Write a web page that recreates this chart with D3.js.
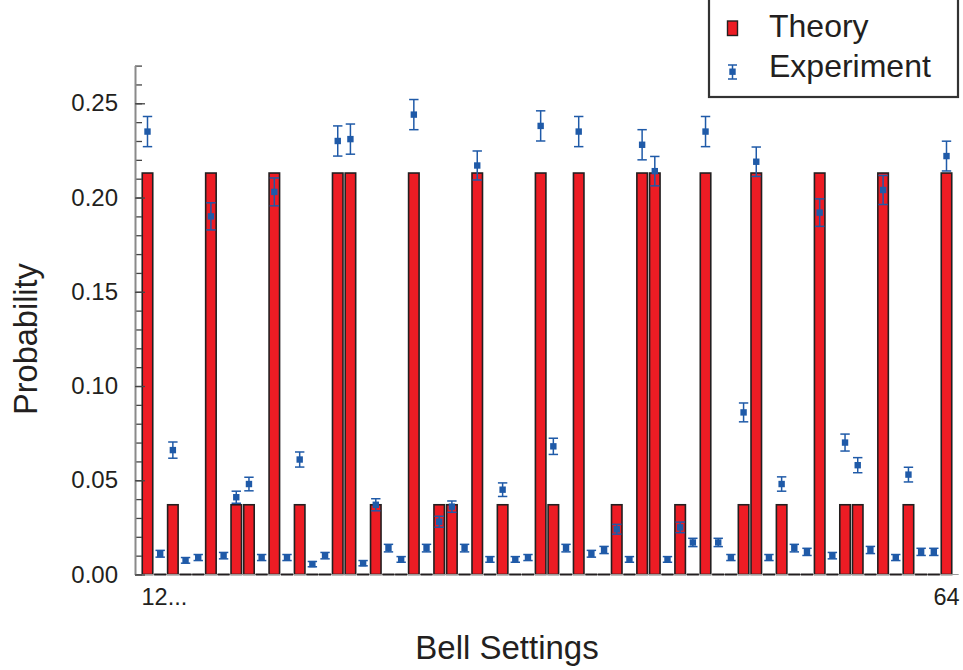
<!DOCTYPE html>
<html>
<head>
<meta charset="utf-8">
<script src="https://cdnjs.cloudflare.com/ajax/libs/d3/7.8.5/d3.min.js"></script>
<style>
body { margin: 0; background: #fff; }
text { font-family: "Liberation Sans", Arial, sans-serif; fill: #231f20; }
</style>
</head>
<body>
<div id="chart"></div>
<script>
var svgWidth = 963;
var svgHeight = 670;

// bell settings 1..64
var settings = d3.range(1, 65);

var theory = [0.213,0,0.037,0,0,0.213,0,0.037,0.037,0,0.213,0,0.037,0,0,0.213,
  0.213,0,0.037,0,0,0.213,0,0.037,0.037,0,0.213,0,0.037,0,0,0.213,
  0.037,0,0.213,0,0,0.037,0,0.213,0.213,0,0.037,0,0.213,0,0,0.037,
  0.213,0,0.037,0,0,0.213,0,0.037,0.037,0,0.213,0,0.037,0,0,0.213];

var experiment = [0.235,0.011,0.066,0.0075,0.009,0.190,0.010,0.041,0.048,0.009,
  0.203,0.009,0.061,0.0055,0.010,0.230,0.231,0.006,0.037,0.014,
  0.008,0.244,0.014,0.028,0.036,0.014,0.217,0.008,0.045,0.008,
  0.009,0.238,0.068,0.014,0.235,0.011,0.013,0.024,0.008,0.228,
  0.214,0.008,0.025,0.017,0.235,0.017,0.009,0.086,0.219,0.009,
  0.048,0.014,0.012,0.192,0.010,0.070,0.058,0.013,0.204,0.009,
  0.053,0.012,0.012,0.222];

var expError = [0.008,0.0018,0.0043,0.0015,0.0016,0.0072,0.0017,0.0032,0.0036,0.0016,
  0.0074,0.0016,0.004,0.0014,0.0017,0.008,0.008,0.0014,0.0032,0.002,
  0.0015,0.008,0.002,0.0029,0.003,0.002,0.0077,0.0015,0.0036,0.0015,
  0.0016,0.008,0.0043,0.002,0.008,0.0018,0.0019,0.0026,0.0015,0.008,
  0.0078,0.0015,0.0028,0.0022,0.008,0.0022,0.0016,0.005,0.0078,0.0016,
  0.0038,0.002,0.0019,0.0073,0.0017,0.0045,0.004,0.0019,0.0077,0.0016,
  0.0039,0.0019,0.0019,0.0079];

var xTickLabels = ["12...", "64"];
var yTicks = [0, 0.05, 0.10, 0.15, 0.20, 0.25];

var axisLeftX = 135;
var axisRightX = 958.7;
var barWidth = 10.5;
var red = "#ed1c24";
var blue = "#1f5aa8";

var data = settings.map(function(s, i) {
  return { setting: s, theory: theory[i], exp: experiment[i], err: expError[i] };
});

var svg = d3
.select("#chart")
.append("svg")
.attr("width", svgWidth)
.attr("height", svgHeight);

var xScale = d3
.scalePoint()
.domain(settings)
.range([147.5, 946.5]);

var yScale = d3
.scaleLinear()
.domain([0, 0.27])
.range([574.5, 65.6]);

// theory bars (zero values collapse to a dark dash on the baseline)
svg
.append("g")
.selectAll("rect")
.data(data)
.enter()
.append("rect")
.attr("x", function(d) { return xScale(d.setting) - barWidth / 2; })
.attr("y", function(d) { return yScale(d.theory); })
.attr("width", barWidth)
.attr("height", function(d) { return yScale(0) - yScale(d.theory); })
.attr("fill", red)
.attr("stroke", "#231f20")
.attr("stroke-width", 1.6);

// baseline
svg
.append("line")
.attr("x1", axisLeftX)
.attr("x2", axisRightX)
.attr("y1", yScale(0))
.attr("y2", yScale(0))
.attr("stroke", "#9a9a9a")
.attr("stroke-width", 1.2);

// redraw zero dashes over baseline
svg
.append("g")
.selectAll("line")
.data(data.filter(function(d) { return d.theory === 0; }))
.enter()
.append("line")
.attr("x1", function(d) { return xScale(d.setting) - barWidth / 2 - 0.8; })
.attr("x2", function(d) { return xScale(d.setting) + barWidth / 2 + 0.8; })
.attr("y1", yScale(0))
.attr("y2", yScale(0))
.attr("stroke", "#231f20")
.attr("stroke-width", 2);

// y axis: minor ticks then major ticks with labels
var yMinor = d3.axisLeft(yScale)
.tickValues(d3.range(0, 0.2701, 0.01))
.tickSize(-7)
.tickFormat("");

svg
.append("g")
.attr("class", "yMinor")
.attr("transform", "translate(" + axisLeftX + ",0)")
.call(yMinor);

var yAxis = d3.axisLeft(yScale)
.tickValues(yTicks)
.tickSizeInner(-10)
.tickSizeOuter(0)
.tickPadding(17)
.tickFormat(d3.format(".2f"));

svg
.append("g")
.attr("class", "yAxis")
.attr("transform", "translate(" + axisLeftX + ",0)")
.call(yAxis);

svg.selectAll(".yMinor .domain").remove();
svg.selectAll(".yMinor line, .yAxis line").attr("stroke", "#444").attr("stroke-width", 1.3);
svg.select(".yAxis .domain").attr("stroke", "#8a8a8a").attr("stroke-width", 2);
svg.selectAll(".yAxis text")
.attr("font-size", 24)
.attr("font-family", "Liberation Sans, Arial, sans-serif")
.attr("fill", "#231f20");

// x tick labels
svg
.append("text")
.attr("x", xScale(1) - 6)
.attr("y", 605)
.attr("font-size", 23.5)
.attr("text-anchor", "start")
.text(xTickLabels[0]);

svg
.append("text")
.attr("x", xScale(64))
.attr("y", 605)
.attr("font-size", 23.5)
.attr("text-anchor", "middle")
.text(xTickLabels[1]);

// experiment points with error bars
var expG = svg.append("g").selectAll("g").data(data).enter().append("g");

expG
.append("line")
.attr("x1", function(d) { return xScale(d.setting); })
.attr("x2", function(d) { return xScale(d.setting); })
.attr("y1", function(d) { return yScale(d.exp - d.err); })
.attr("y2", function(d) { return yScale(d.exp + d.err); })
.attr("stroke", blue)
.attr("stroke-width", 1.5);

expG
.append("line")
.attr("x1", function(d) { return xScale(d.setting) - 4.7; })
.attr("x2", function(d) { return xScale(d.setting) + 4.7; })
.attr("y1", function(d) { return yScale(d.exp - d.err); })
.attr("y2", function(d) { return yScale(d.exp - d.err); })
.attr("stroke", blue)
.attr("stroke-width", 1.5);

expG
.append("line")
.attr("x1", function(d) { return xScale(d.setting) - 4.7; })
.attr("x2", function(d) { return xScale(d.setting) + 4.7; })
.attr("y1", function(d) { return yScale(d.exp + d.err); })
.attr("y2", function(d) { return yScale(d.exp + d.err); })
.attr("stroke", blue)
.attr("stroke-width", 1.5);

expG
.append("rect")
.attr("x", function(d) { return xScale(d.setting) - 3.2; })
.attr("y", function(d) { return yScale(d.exp) - 3.2; })
.attr("width", 6.4)
.attr("height", 6.4)
.attr("fill", blue);

// axis titles
svg
.append("text")
.attr("transform", "translate(37,339)rotate(-90)")
.attr("text-anchor", "middle")
.attr("font-size", 32.5)
.text("Probability");

svg
.append("text")
.attr("x", 507)
.attr("y", 659)
.attr("text-anchor", "middle")
.attr("font-size", 33)
.text("Bell Settings");

// legend
var legend = svg.append("g").attr("class", "legend");

legend
.append("rect")
.attr("x", 709)
.attr("y", -2)
.attr("width", 249)
.attr("height", 99)
.attr("fill", "#fff")
.attr("stroke", "#333")
.attr("stroke-width", 2.2);

legend
.append("rect")
.attr("x", 727.5)
.attr("y", 21)
.attr("width", 10)
.attr("height", 14.5)
.attr("fill", red)
.attr("stroke", "#231f20")
.attr("stroke-width", 1.4);

legend
.append("text")
.attr("x", 769)
.attr("y", 37)
.attr("font-size", 32)
.text("Theory");

legend.append("line")
.attr("x1", 732.5).attr("x2", 732.5).attr("y1", 65).attr("y2", 79)
.attr("stroke", blue).attr("stroke-width", 1.5);
legend.append("line")
.attr("x1", 728).attr("x2", 737).attr("y1", 65).attr("y2", 65)
.attr("stroke", blue).attr("stroke-width", 1.5);
legend.append("line")
.attr("x1", 728).attr("x2", 737).attr("y1", 79).attr("y2", 79)
.attr("stroke", blue).attr("stroke-width", 1.5);
legend.append("rect")
.attr("x", 729.3).attr("y", 68.5).attr("width", 6.4).attr("height", 6.4)
.attr("fill", blue);

legend
.append("text")
.attr("x", 769)
.attr("y", 77)
.attr("font-size", 32)
.text("Experiment");
</script>
</body>
</html>
